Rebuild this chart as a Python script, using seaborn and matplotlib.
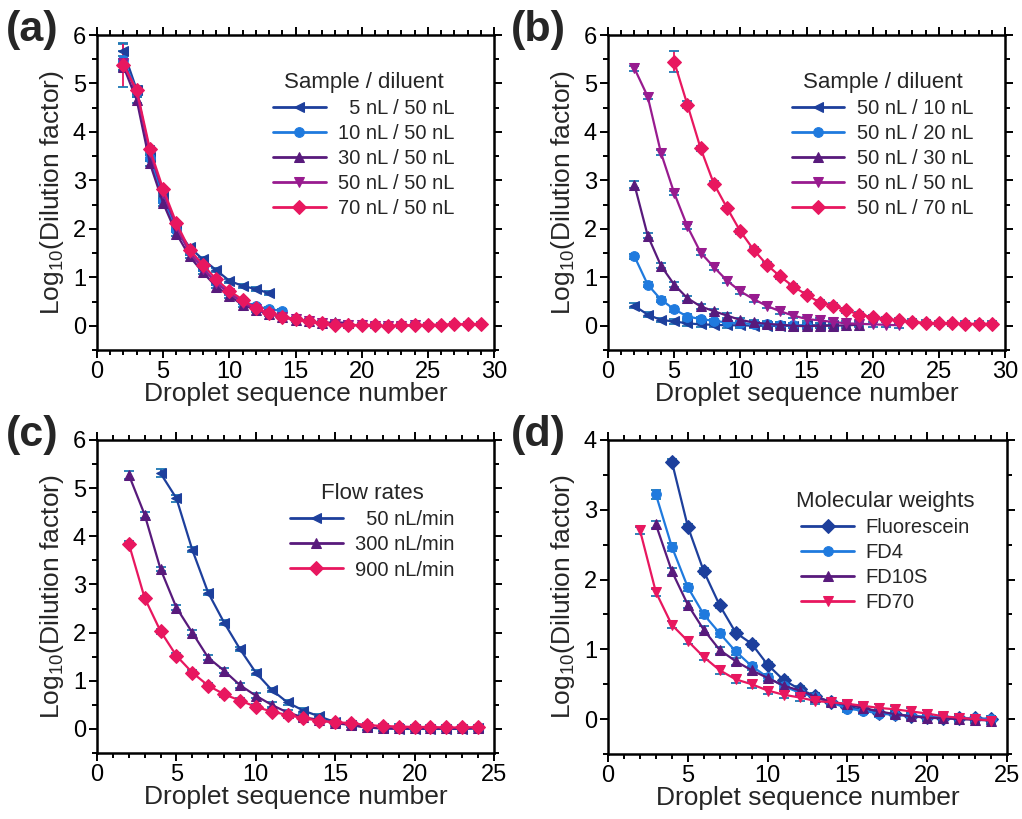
import numpy as np
import pandas as pd
import matplotlib
matplotlib.use("Agg")
import matplotlib.pyplot as plt
from matplotlib.ticker import MultipleLocator
import seaborn as sns

sns.set_style("ticks")
plt.rcParams['font.family'] = ['Liberation Sans', 'DejaVu Sans']
plt.rcParams['mathtext.fontset'] = 'custom'
plt.rcParams['mathtext.rm'] = 'Liberation Sans'

C_DBLUE = "#1d3f9c"
C_LBLUE = "#1f7ade"
C_DPURP = "#581a7c"
C_MPURP = "#981b8f"
C_PINK = "#e8175f"

# ---------------- Panel (a) ----------------
a_labels = ["  5 nL / 50 nL", "10 nL / 50 nL", "30 nL / 50 nL", "50 nL / 50 nL", "70 nL / 50 nL"]
a_x = [list(range(2, 14)), list(range(2, 15)), list(range(2, 20)), list(range(2, 25)), list(range(2, 30))]
a_y = [
    [5.66, 4.87, 3.49, 2.67, 2.00, 1.62, 1.37, 1.15, 0.93, 0.82, 0.76, 0.67],
    [5.48, 4.85, 3.46, 2.58, 1.98, 1.55, 1.20, 0.90, 0.70, 0.50, 0.41, 0.34, 0.31],
    [5.35, 4.66, 3.35, 2.53, 1.90, 1.43, 1.10, 0.81, 0.62, 0.43, 0.33, 0.24, 0.18, 0.12, 0.09, 0.05, 0.08, 0.05],
    [5.42, 4.80, 3.58, 2.75, 2.05, 1.50, 1.18, 0.88, 0.67, 0.48, 0.34, 0.25, 0.18, 0.13, 0.09, 0.05, 0.03, 0.02,
     0.01, 0.00, -0.01, 0.00, 0.01],
    [5.38, 4.87, 3.64, 2.82, 2.12, 1.57, 1.26, 0.96, 0.72, 0.54, 0.36, 0.26, 0.19, 0.14, 0.09, 0.05, 0.02, 0.02,
     0.01, 0.01, -0.01, 0.01, 0.01, 0.02, 0.02, 0.03, 0.03, 0.03],
]
a_err = [
    [0.15, 0.08, 0.06, 0.06, 0.05, 0.05, 0.04, 0.04, 0.04, 0.04, 0.04, 0.04],
    [0.20, 0.08, 0.06, 0.05, 0.05, 0.04, 0.04, 0.04, 0.04, 0.04, 0.04, 0.04, 0.04],
    [0.10, 0.07, 0.06, 0.05, 0.05, 0.04, 0.04, 0.04, 0.04, 0.04, 0.04, 0.04, 0.04, 0.04, 0.04, 0.04, 0.04, 0.04],
    [0.15, 0.07, 0.06, 0.05, 0.05, 0.04, 0.04, 0.04, 0.04, 0.04, 0.04, 0.04, 0.04, 0.04, 0.04, 0.04, 0.04, 0.04,
     0.04, 0.04, 0.04, 0.04, 0.04],
    [0.45, 0.08, 0.06, 0.05, 0.05, 0.04, 0.04, 0.04, 0.04, 0.04, 0.04, 0.04, 0.04, 0.04, 0.04, 0.04, 0.04, 0.04,
     0.04, 0.04, 0.04, 0.04, 0.04, 0.04, 0.04, 0.04, 0.04, 0.04],
]
a_colors = [C_DBLUE, C_LBLUE, C_DPURP, C_MPURP, C_PINK]
a_markers = ["<", "o", "^", "v", "D"]

# ---------------- Panel (b) ----------------
b_labels = ["50 nL / 10 nL", "50 nL / 20 nL", "50 nL / 30 nL", "50 nL / 50 nL", "50 nL / 70 nL"]
b_x = [list(range(2, 18)), list(range(2, 16)), list(range(2, 20)), list(range(2, 23)), list(range(5, 30))]
b_y = [
    [0.41, 0.23, 0.12, 0.09, 0.05, 0.03, 0.02, 0.01, 0.01, 0.00, 0.00, 0.00, 0.00, 0.01, 0.01, 0.01],
    [1.43, 0.85, 0.54, 0.34, 0.19, 0.14, 0.10, 0.07, 0.05, 0.04, 0.03, 0.02, 0.01, 0.00],
    [2.91, 1.86, 1.24, 0.85, 0.57, 0.40, 0.30, 0.21, 0.12, 0.07, 0.04, 0.02, 0.00, -0.01, 0.00, 0.00, 0.01, 0.02],
    [5.31, 4.73, 3.57, 2.74, 2.05, 1.51, 1.21, 0.93, 0.71, 0.55, 0.41, 0.30, 0.21, 0.14, 0.11, 0.08, 0.05, 0.04,
     0.03, 0.02, 0.01],
    [5.45, 4.56, 3.66, 2.93, 2.43, 1.95, 1.57, 1.26, 1.02, 0.81, 0.64, 0.48, 0.41, 0.32, 0.23, 0.18, 0.14, 0.11,
     0.08, 0.06, 0.05, 0.05, 0.04, 0.04, 0.04],
]
b_err = [
    [0.05] * 16,
    [0.05] * 14,
    [0.07] + [0.05] * 17,
    [0.06] + [0.05] * 20,
    [0.22, 0.07] + [0.05] * 23,
]
b_colors = [C_DBLUE, C_LBLUE, C_DPURP, C_MPURP, C_PINK]
b_markers = ["<", "o", "^", "v", "D"]

# ---------------- Panel (c) ----------------
c_labels = ["  50 nL/min", "300 nL/min", "900 nL/min"]
c_x = [list(range(4, 25)), list(range(2, 25)), list(range(2, 25))]
c_y = [
    [5.31, 4.79, 3.72, 2.83, 2.21, 1.66, 1.17, 0.81, 0.55, 0.38, 0.26, 0.14, 0.08, 0.03, 0.01, 0.00, 0.00, 0.00,
     0.00, 0.00, 0.01],
    [5.28, 4.45, 3.32, 2.52, 2.00, 1.48, 1.21, 0.91, 0.69, 0.50, 0.34, 0.24, 0.19, 0.12, 0.08, 0.03, 0.01, 0.01,
     0.01, 0.01, 0.01, 0.01, 0.02],
    [3.85, 2.72, 2.03, 1.52, 1.17, 0.90, 0.72, 0.59, 0.46, 0.36, 0.29, 0.22, 0.17, 0.14, 0.12, 0.08, 0.06, 0.05,
     0.04, 0.04, 0.03, 0.03, 0.04],
]
c_err = [
    [0.08, 0.07] + [0.05] * 19,
    [0.08, 0.06] + [0.05] * 21,
    [0.05] * 23,
]
c_colors = [C_DBLUE, C_DPURP, C_PINK]
c_markers = ["<", "^", "D"]

# ---------------- Panel (d) ----------------
d_labels = ["Fluorescein", "FD4", "FD10S", "FD70"]
d_x = [list(range(4, 25)), list(range(3, 25)), list(range(3, 25)), list(range(2, 25))]
d_y = [
    [3.69, 2.76, 2.12, 1.63, 1.24, 1.08, 0.78, 0.56, 0.43, 0.33, 0.24, 0.17, 0.14, 0.09, 0.07, 0.04, 0.03, 0.02,
     0.01, 0.01, 0.00],
    [3.22, 2.47, 1.89, 1.50, 1.23, 0.97, 0.76, 0.60, 0.47, 0.38, 0.31, 0.24, 0.15, 0.12, 0.08, 0.06, 0.05, 0.03,
     0.02, 0.02, 0.01, 0.00],
    [2.79, 2.12, 1.64, 1.28, 0.99, 0.83, 0.70, 0.59, 0.48, 0.41, 0.32, 0.24, 0.21, 0.16, 0.11, 0.07, 0.04, 0.02,
     0.01, 0.00, -0.01, -0.02],
    [2.71, 1.82, 1.35, 1.12, 0.89, 0.70, 0.57, 0.50, 0.41, 0.35, 0.31, 0.26, 0.24, 0.22, 0.19, 0.16, 0.14, 0.11,
     0.08, 0.04, 0.02, 0.00, -0.02],
]
d_err = [
    [0.04] * 21,
    [0.07, 0.06] + [0.05] * 20,
    [0.05] * 22,
    [0.05] * 23,
]
d_colors = [C_DBLUE, C_LBLUE, C_DPURP, C_PINK]
d_markers = ["D", "o", "^", "v"]

panels = [
    ("(a)", a_labels, a_x, a_y, a_err, a_colors, a_markers, "Sample / diluent", (0, 30), (-0.5, 6)),
    ("(b)", b_labels, b_x, b_y, b_err, b_colors, b_markers, "Sample / diluent", (0, 30), (-0.5, 6)),
    ("(c)", c_labels, c_x, c_y, c_err, c_colors, c_markers, "Flow rates", (0, 25), (-0.5, 6)),
    ("(d)", d_labels, d_x, d_y, d_err, d_colors, d_markers, "Molecular weights", (0, 25), (-0.5, 4)),
]

positions = [
    [97 / 1022, 1 - 350 / 819, 397 / 1022, 315 / 819],
    [608 / 1022, 1 - 350 / 819, 397 / 1022, 315 / 819],
    [97 / 1022, 1 - 753 / 819, 397 / 1022, 313 / 819],
    [608 / 1022, 1 - 754 / 819, 399 / 1022, 314 / 819],
]
legend_anchor = [(0.93, 0.92), (0.95, 0.92), (0.93, 0.90), (0.95, 0.875)]
label_pos = [(0.006, 0.988), (0.500, 0.988), (0.006, 0.493), (0.500, 0.493)]

fig = plt.figure(figsize=(10.22, 8.19), dpi=100)

for i, (plab, labels, xs, ys, errs, colors, markers, ltitle, xlim, ylim) in enumerate(panels):
    ax = fig.add_axes(positions[i])
    rows = []
    for lab, xv, yv in zip(labels, xs, ys):
        for xx, yy in zip(xv, yv):
            rows.append({"x": xx, "y": yy, "series": lab})
    df = pd.DataFrame(rows)
    pal = dict(zip(labels, colors))
    mk = dict(zip(labels, markers))
    for lab, xv, yv, ev, col in zip(labels, xs, ys, errs, colors):
        ax.errorbar(xv, yv, yerr=ev, fmt="none", ecolor=col, elinewidth=1.3, capsize=3.5, capthick=1.3, zorder=2)
    sns.lineplot(data=df, x="x", y="y", hue="series", style="series", hue_order=labels, style_order=labels,
                 palette=pal, markers=mk, dashes=False, markersize=7,
                 linewidth=1.6, ax=ax, legend="full", zorder=3)
    for ln in ax.get_lines():
        ln.set_markeredgecolor(ln.get_color())
    handles, hl = ax.get_legend_handles_labels()
    for h in handles:
        h.set_markeredgecolor(h.get_color())
        h.set_markersize(7)
        h.set_linewidth(2.0)
    leg = ax.legend(handles, hl, title=ltitle, frameon=False, loc="upper right",
                    bbox_to_anchor=legend_anchor[i], fontsize=14.5, title_fontsize=16,
                    handlelength=2.6, labelspacing=0.3, handletextpad=0.6, borderaxespad=0.2)

    ax.set_xlim(*xlim)
    ax.set_ylim(*ylim)
    ax.xaxis.set_major_locator(MultipleLocator(5))
    ax.xaxis.set_minor_locator(MultipleLocator(1))
    ax.yaxis.set_major_locator(MultipleLocator(1))
    ax.yaxis.set_minor_locator(MultipleLocator(0.5))
    ax.tick_params(which="both", direction="out", top=True, right=True, width=1.4, labelsize=17,
                   colors="black", pad=2)
    ax.tick_params(which="major", length=6)
    ax.tick_params(which="minor", length=3.5)
    for s in ax.spines.values():
        s.set_linewidth(1.8)
        s.set_color("black")
    ax.set_xlabel("Droplet sequence number", fontsize=19, labelpad=-1)
    ax.set_ylabel("Log$_{10}$(Dilution factor)", fontsize=19, labelpad=5)
    fig.text(label_pos[i][0], label_pos[i][1], plab, fontsize=31, fontweight="bold", va="top", ha="left")

fig.savefig("out.png", dpi=100)
